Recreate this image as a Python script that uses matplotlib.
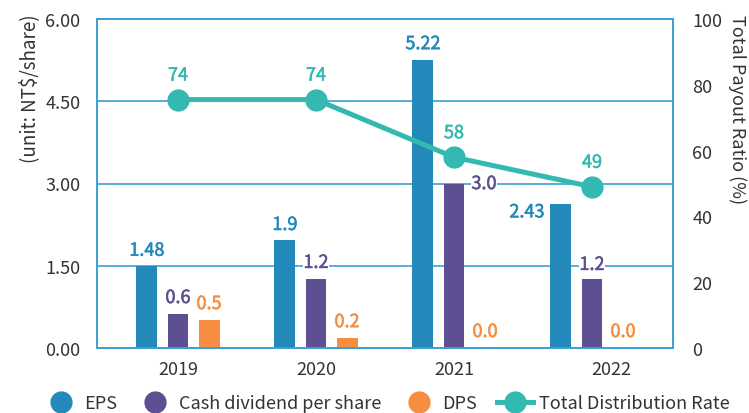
import matplotlib
matplotlib.use("Agg")
import matplotlib.pyplot as plt
import matplotlib.transforms as mtransforms
import matplotlib.patheffects as pe
from matplotlib.lines import Line2D
import numpy as np

plt.rcParams['font.family'] = ['Noto Sans CJK TC', 'DejaVu Sans']

years = ["2019", "2020", "2021", "2022"]
# bar heights as drawn in the picture
eps = [1.50, 1.97, 5.25, 2.62]
cash_div = [0.62, 1.26, 2.99, 1.26]
dps = [0.51, 0.18, 0.0, 0.0]
payout = [75.5, 75.5, 58, 49]

# printed value labels
eps_labels = ["1.48", "1.9", "5.22", "2.43"]
cash_labels = ["0.6", "1.2", "3.0", "1.2"]
dps_labels = ["0.5", "0.2", "0.0", "0.0"]
payout_labels = ["74", "74", "58", "49"]

left_ticks = [0, 1.5, 3.0, 4.5, 6.0]
right_ticks = [0, 20, 40, 60, 80, 100]

c_eps = "#2389bb"
c_cash = "#5d4f91"
c_dps = "#f68d40"
c_line = "#33b9b1"
c_axis = "#3d9fd3"
c_text = "#333333"

fig = plt.figure(figsize=(7.49, 4.14), dpi=100)
ax = fig.add_axes([97/749, 1-349/414, 576/749, 329/414])
ax2 = ax.twinx()

x = np.arange(len(years))
w = 0.152
off = 0.225
px = 0.72  # points per pixel

ax.bar(x - off, eps, w, color=c_eps, zorder=2)
ax.bar(x, cash_div, w, color=c_cash, zorder=2)
ax.bar(x + off, dps, w, color=c_dps, zorder=2)

ax.set_xlim(-0.587, 3.587)
ax.set_ylim(0, 6)
ax.set_yticks(left_ticks)
ax.set_yticklabels([f"{v:.2f}" for v in left_ticks])
ax.set_xticks(x)
ax.set_xticklabels(years)
ax.tick_params(axis='both', length=0, labelsize=13, colors=c_text)
ax.tick_params(axis='y', pad=12)
ax.tick_params(axis='x', pad=9)
ax.grid(axis='y', color=c_axis, lw=1.2, zorder=0)
ax.set_axisbelow(True)

lbls = ax.get_xticklabels()
lbls[3].set_transform(lbls[3].get_transform() + mtransforms.ScaledTranslation(19/100, 0, fig.dpi_scale_trans))

for a in (ax, ax2):
    for s in a.spines.values():
        s.set_color(c_axis)
        s.set_linewidth(1.2)

ax2.plot(x, payout, color=c_line, lw=3.6, marker='o', ms=15, zorder=5)
ax2.set_ylim(0, 100)
ax2.set_yticks(right_ticks)
ax2.tick_params(axis='y', length=0, labelsize=13, colors=c_text, pad=14)

bbox = dict(boxstyle='square,pad=0.05', fc='white', ec='none')

def lab(a, xi, yi, text, color, dx, dy, box=True):
    t = a.annotate(text, (xi, yi), xytext=(dx*px, dy*px), textcoords='offset points',
                   ha='center', va='center', color=color, fontsize=13,
                   bbox=bbox if box else None, zorder=6)
    t.set_path_effects([pe.withStroke(linewidth=0.4, foreground=color)])

eps_off = [(0, 15), (0, 15), (0, 16), (-34, -8)]
cash_off = [(0, 16), (0, 16), (30, 0), (0, 14)]
dps_off = [(0, 16), (0, 16), (0, 16), (0, 16)]
for i in range(len(years)):
    lab(ax, x[i]-off, eps[i], eps_labels[i], c_eps, *eps_off[i])
    lab(ax, x[i], cash_div[i], cash_labels[i], c_cash, *cash_off[i])
    lab(ax, x[i]+off, dps[i], dps_labels[i], c_dps, *dps_off[i])
    lab(ax2, x[i], payout[i], payout_labels[i], c_line, 0, 24, box=False)

fig.text(30/749, 1-14/414, "(unit: NT$/share)", rotation=90, ha='center', va='top',
         fontsize=13.5, color=c_text)
fig.text(737/749, 1-15/414, "Total Payout Ratio (%)", rotation=270, ha='center', va='top',
         fontsize=13, color=c_text)

handles = [
    Line2D([], [], ls='none', marker='o', ms=15, color=c_eps),
    Line2D([], [], ls='none', marker='o', ms=15, color=c_cash),
    Line2D([], [], ls='none', marker='o', ms=15, color=c_dps),
    Line2D([], [], color=c_line, lw=3.6, marker='o', ms=15),
]
names = ["EPS", "Cash dividend per share", "DPS", "Total Distribution Rate"]
leg = fig.legend(handles, names, loc='center', bbox_to_anchor=(386/749, 1-404/414), ncol=4,
                 frameon=False, fontsize=13, handlelength=2.0, handletextpad=0.3,
                 columnspacing=1.1, labelcolor=c_text)

fig.savefig("out.png", dpi=100)
